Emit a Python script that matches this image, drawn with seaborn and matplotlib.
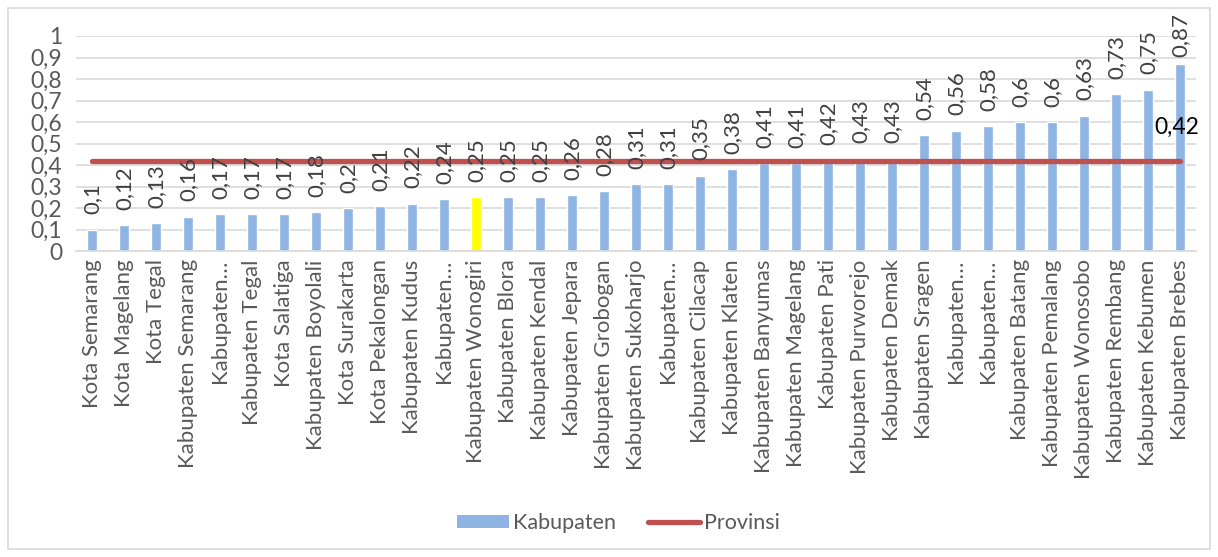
import numpy as np
import pandas as pd
import matplotlib
matplotlib.use("Agg")
import matplotlib.pyplot as plt
import seaborn as sns
from matplotlib.patches import Patch, Rectangle
from matplotlib.lines import Line2D

categories = [
    "Kota Semarang", "Kota Magelang", "Kota Tegal", "Kabupaten Semarang", "Kabupaten…",
    "Kabupaten Tegal", "Kota Salatiga", "Kabupaten Boyolali", "Kota Surakarta", "Kota Pekalongan",
    "Kabupaten Kudus", "Kabupaten…", "Kabupaten Wonogiri", "Kabupaten Blora", "Kabupaten Kendal",
    "Kabupaten Jepara", "Kabupaten Grobogan", "Kabupaten Sukoharjo", "Kabupaten…", "Kabupaten Cilacap",
    "Kabupaten Klaten", "Kabupaten Banyumas", "Kabupaten Magelang", "Kabupaten Pati", "Kabupaten Purworejo",
    "Kabupaten Demak", "Kabupaten Sragen", "Kabupaten…", "Kabupaten…", "Kabupaten Batang",
    "Kabupaten Pemalang", "Kabupaten Wonosobo", "Kabupaten Rembang", "Kabupaten Kebumen", "Kabupaten Brebes",
]
kabupaten = [0.10, 0.12, 0.13, 0.16, 0.17, 0.17, 0.17, 0.18, 0.20, 0.21, 0.22, 0.24, 0.25, 0.25, 0.25,
             0.26, 0.28, 0.31, 0.31, 0.35, 0.38, 0.41, 0.41, 0.42, 0.43, 0.43, 0.54, 0.56, 0.58, 0.60,
             0.60, 0.63, 0.73, 0.75, 0.87]
provinsi = [0.42] * len(categories)
highlight_index = 12
yticks = [0, 0.1, 0.2, 0.3, 0.4, 0.5, 0.6, 0.7, 0.8, 0.9, 1.0]

BLUE = "#8DB4E2"
YELLOW = "#FFFF00"
RED = "#C0504D"
GRID = "#D9D9D9"
TXT = "#595959"

sns.set_style("white")
plt.rcParams['font.family'] = ['Lato', 'DejaVu Sans']

def fmt(v):
    return f"{v:g}".replace(".", ",")

n = len(categories)
df = pd.DataFrame({"pos": [str(i) for i in range(n)], "val": kabupaten})
colors = [YELLOW if i == highlight_index else BLUE for i in range(n)]

fig = plt.figure(figsize=(12.18, 5.57), dpi=100)
ax = fig.add_axes([76/1218, 1-251/557, (1196-76)/1218, (251-36)/557])

sns.barplot(data=df, x="pos", y="val", hue="pos", palette=colors, legend=False,
            width=0.33, saturation=1, ax=ax, zorder=2)
ax.plot(np.arange(n), provinsi, color=RED, lw=3.8, solid_capstyle="round", zorder=3)

for i, v in enumerate(kabupaten):
    off = 11 if v < 0.8 else 5
    ax.annotate(fmt(v), (i, v), xytext=(0, off), textcoords="offset points",
                rotation=90, ha="center", va="bottom", fontsize=16, color="#404040",
                zorder=4, annotation_clip=False)
ax.annotate(fmt(provinsi[-1]), (n - 1, provinsi[-1]), xytext=(-2, 24), textcoords="offset points",
            ha="center", va="center", fontsize=16.5, color="black", zorder=5)

ax.set_xlim(-0.5, n - 0.5)
ax.set_ylim(0, 1)
ax.set_yticks(yticks)
ax.set_yticklabels([fmt(t) for t in yticks], fontsize=16.5, color=TXT)
ax.set_xticks(range(n))
ax.set_xticklabels(categories, rotation=90, fontsize=16, color=TXT)
ax.tick_params(axis="both", length=0, pad=6)
ax.tick_params(axis="y", pad=10)
ax.set_xlabel("")
ax.set_ylabel("")
for s in ["top", "right", "left"]:
    ax.spines[s].set_visible(False)
ax.spines["bottom"].set_color(GRID)
ax.spines["bottom"].set_linewidth(1.2)
ax.yaxis.grid(True, color=GRID, lw=1.2, zorder=0)
ax.set_axisbelow(True)

handles = [Patch(facecolor=BLUE, edgecolor="none"),
           Line2D([], [], color=RED, lw=3.8, solid_capstyle="round")]
fig.legend(handles, ["Kabupaten", "Provinsi"], loc="center", bbox_to_anchor=(0.508, 1-523/557),
           ncol=2, frameon=False, fontsize=15.5, handlelength=2.4, handleheight=0.6,
           columnspacing=1.5, handletextpad=0.2, labelcolor=TXT)

fig.patches.append(Rectangle((8/1218, 1-549/557), 1202/1218, 541/557, transform=fig.transFigure,
                             fill=False, edgecolor=GRID, lw=1.2))

fig.savefig("out.png", dpi=100)
